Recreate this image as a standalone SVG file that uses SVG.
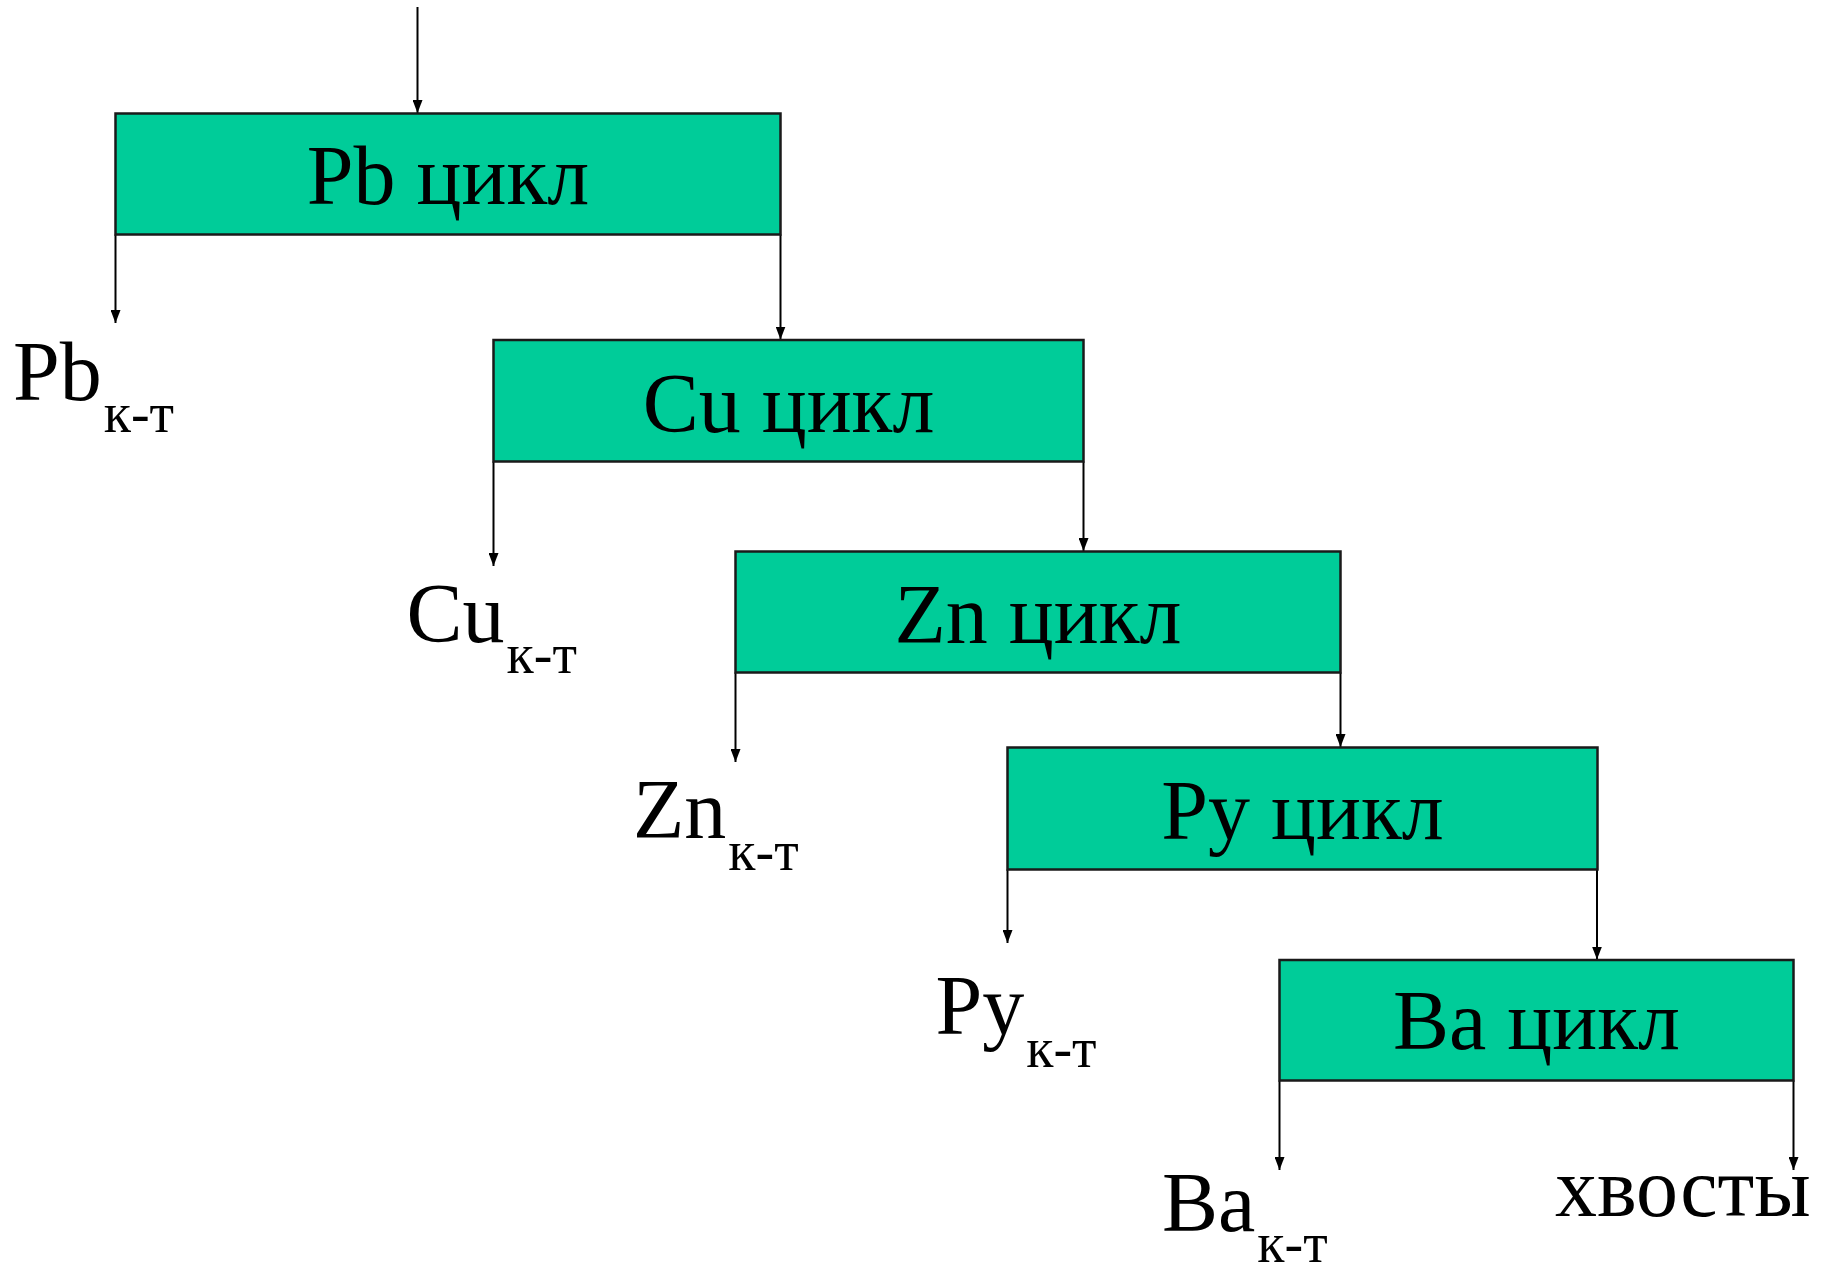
<svg xmlns="http://www.w3.org/2000/svg" width="1835" height="1267" viewBox="0 0 1835 1267">
<style>
.box{fill:#00CC99;stroke:#1a1a1a;stroke-width:2.5}
.t{font-family:"Liberation Serif","Times New Roman",serif;font-size:84px;fill:#000}
.c{text-anchor:middle}
.sub{font-size:56px}
.ln{stroke:#000;stroke-width:2;fill:none;marker-end:url(#ah)}
</style>
<defs>
<marker id="ah" markerUnits="userSpaceOnUse" markerWidth="13" markerHeight="10" refX="13" refY="5" orient="auto" viewBox="0 0 13 10">
<path d="M0,0 L13,5 L0,10 Z" fill="#000"/>
</marker>
</defs>
<rect width="1835" height="1267" fill="#fff"/>
<g id="connectors">
<path class="ln" d="M417.5,7 V113"/>
<path class="ln" d="M115.5,234.5 V323"/>
<path class="ln" d="M780.5,234.5 V339.5"/>
<path class="ln" d="M493.5,461.5 V566"/>
<path class="ln" d="M1083.5,461.5 V551"/>
<path class="ln" d="M735.5,672.5 V762"/>
<path class="ln" d="M1340.5,672.5 V747"/>
<path class="ln" d="M1007.5,869.5 V943"/>
<path class="ln" d="M1597,869.5 V959.5"/>
<path class="ln" d="M1279.5,1080.5 V1170"/>
<path class="ln" d="M1793.5,1080.5 V1170"/>
</g>
<g id="pb-cycle"><rect class="box" x="115.5" y="113.5" width="665" height="121"/><text class="t c" x="448" y="204">Pb цикл</text></g>
<g id="cu-cycle"><rect class="box" x="493.5" y="340" width="590" height="121.5"/><text class="t c" x="788.5" y="431.7">Cu цикл</text></g>
<g id="zn-cycle"><rect class="box" x="735.5" y="551.5" width="605" height="121"/><text class="t c" x="1038" y="643.3">Zn цикл</text></g>
<g id="py-cycle"><rect class="box" x="1007.5" y="747.5" width="590" height="122"/><text class="t c" x="1302.5" y="839.3">Py цикл</text></g>
<g id="ba-cycle"><rect class="box" x="1279.5" y="960" width="514" height="120.5"/><text class="t c" x="1536.5" y="1049.3">Ba цикл</text></g>
<g id="pb-conc"><text class="t" x="13" y="399.5">Pb<tspan class="sub" dx="2" dy="32">к-т</tspan></text></g>
<g id="cu-conc"><text class="t" x="406.5" y="641.7">Cu<tspan class="sub" dx="2" dy="31.6">к-т</tspan></text></g>
<g id="zn-conc"><text class="t" x="633" y="838.3">Zn<tspan class="sub" dx="2" dy="31.7">к-т</tspan></text></g>
<g id="py-conc"><text class="t" x="935.5" y="1034.3">Py<tspan class="sub" dx="2" dy="33">к-т</tspan></text></g>
<g id="ba-conc"><text class="t" x="1162" y="1231">Ba<tspan class="sub" dx="2" dy="30.5">к-т</tspan></text></g>
<g id="tails"><text class="t" x="1555" y="1216">хвосты</text></g>
</svg>
